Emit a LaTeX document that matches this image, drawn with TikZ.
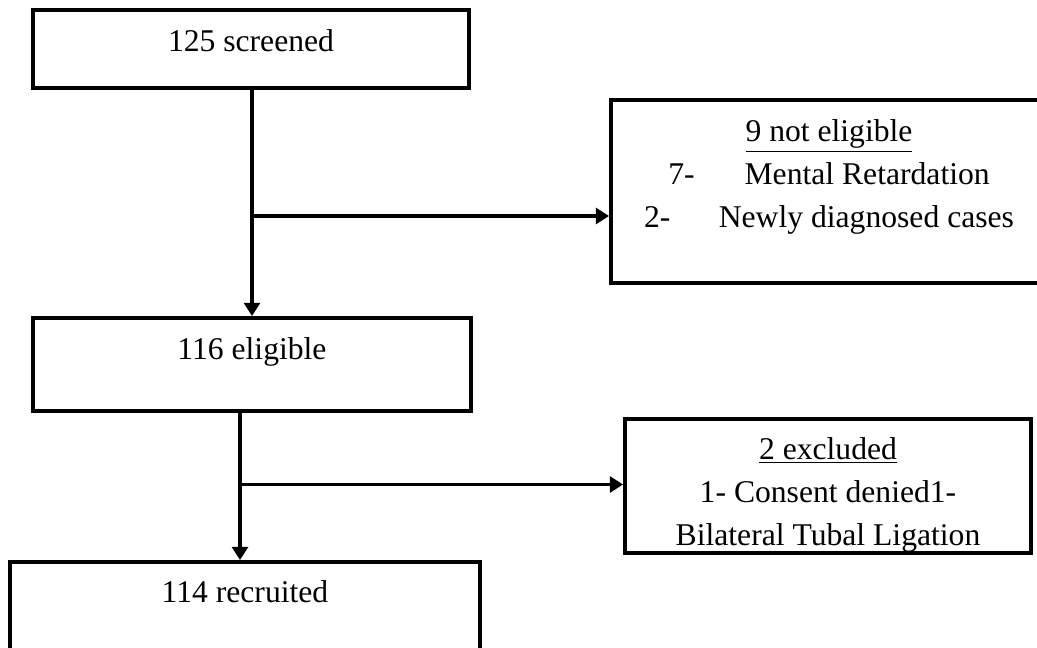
\documentclass[tikz,border=0pt]{standalone}
\usepackage{fontspec}
\setmainfont{Liberation Serif}
\usetikzlibrary{arrows.meta}

\tikzset{
  flowbox/.style={draw, rectangle, line width=2.2pt, inner sep=0pt,
    font=\fontsize{18}{24.2}\selectfont},
  flowarrow/.style={line width=2.2pt, -{Triangle[width=9pt,length=7.5pt]}},
  flowline/.style={line width=2.2pt}
}

\begin{document}
\begin{tikzpicture}

   \clip (0,0) rectangle (20.74,12.96);

   \node (Screened) at (5.02,11.98) [flowbox, minimum width=8.72cm, text height=0.84cm, text depth=0.72cm] {125 screened};

   \node (NotEligible) at (16.58,9.13) [flowbox, minimum width=8.72cm, text height=0.84cm, text depth=2.82cm]
      {\begin{tabular}[t]{@{}c@{}}\underline{9 not eligible}\\ 7-\hspace{1cm}Mental Retardation\\ 2-\hspace{0.97cm}Newly diagnosed cases\end{tabular}};

   \node (Eligible) at (5.04,5.67) [flowbox, minimum width=8.76cm, text height=0.84cm, text depth=1.02cm] {116 eligible};

   \node (Excluded) at (16.56,3.24) [flowbox, minimum width=8.12cm, text height=0.82cm, text depth=1.86cm]
      {\begin{tabular}[t]{@{}c@{}}\underline{2 excluded}\\ 1- Consent denied1-\\ Bilateral Tubal Ligation\end{tabular}};

   \node (Recruited) at (4.9,0.74) [flowbox, minimum width=9.4cm, text height=0.82cm, text depth=1.14cm] {114 recruited};

   \coordinate (Fork1) at (5.04,8.64);
   \coordinate (Fork2) at (4.8,3.27);

   \draw [flowarrow] (Fork1 |- Screened.south) -- (Fork1 |- Eligible.north);
   \draw [flowarrow] (Fork1) -- (Fork1 -| NotEligible.west);

   \draw [flowarrow] (Fork2 |- Eligible.south) -- (Fork2 |- Recruited.north);
   \draw [flowarrow] (Fork2) -- (Fork2 -| Excluded.west);

\end{tikzpicture}
\end{document}
